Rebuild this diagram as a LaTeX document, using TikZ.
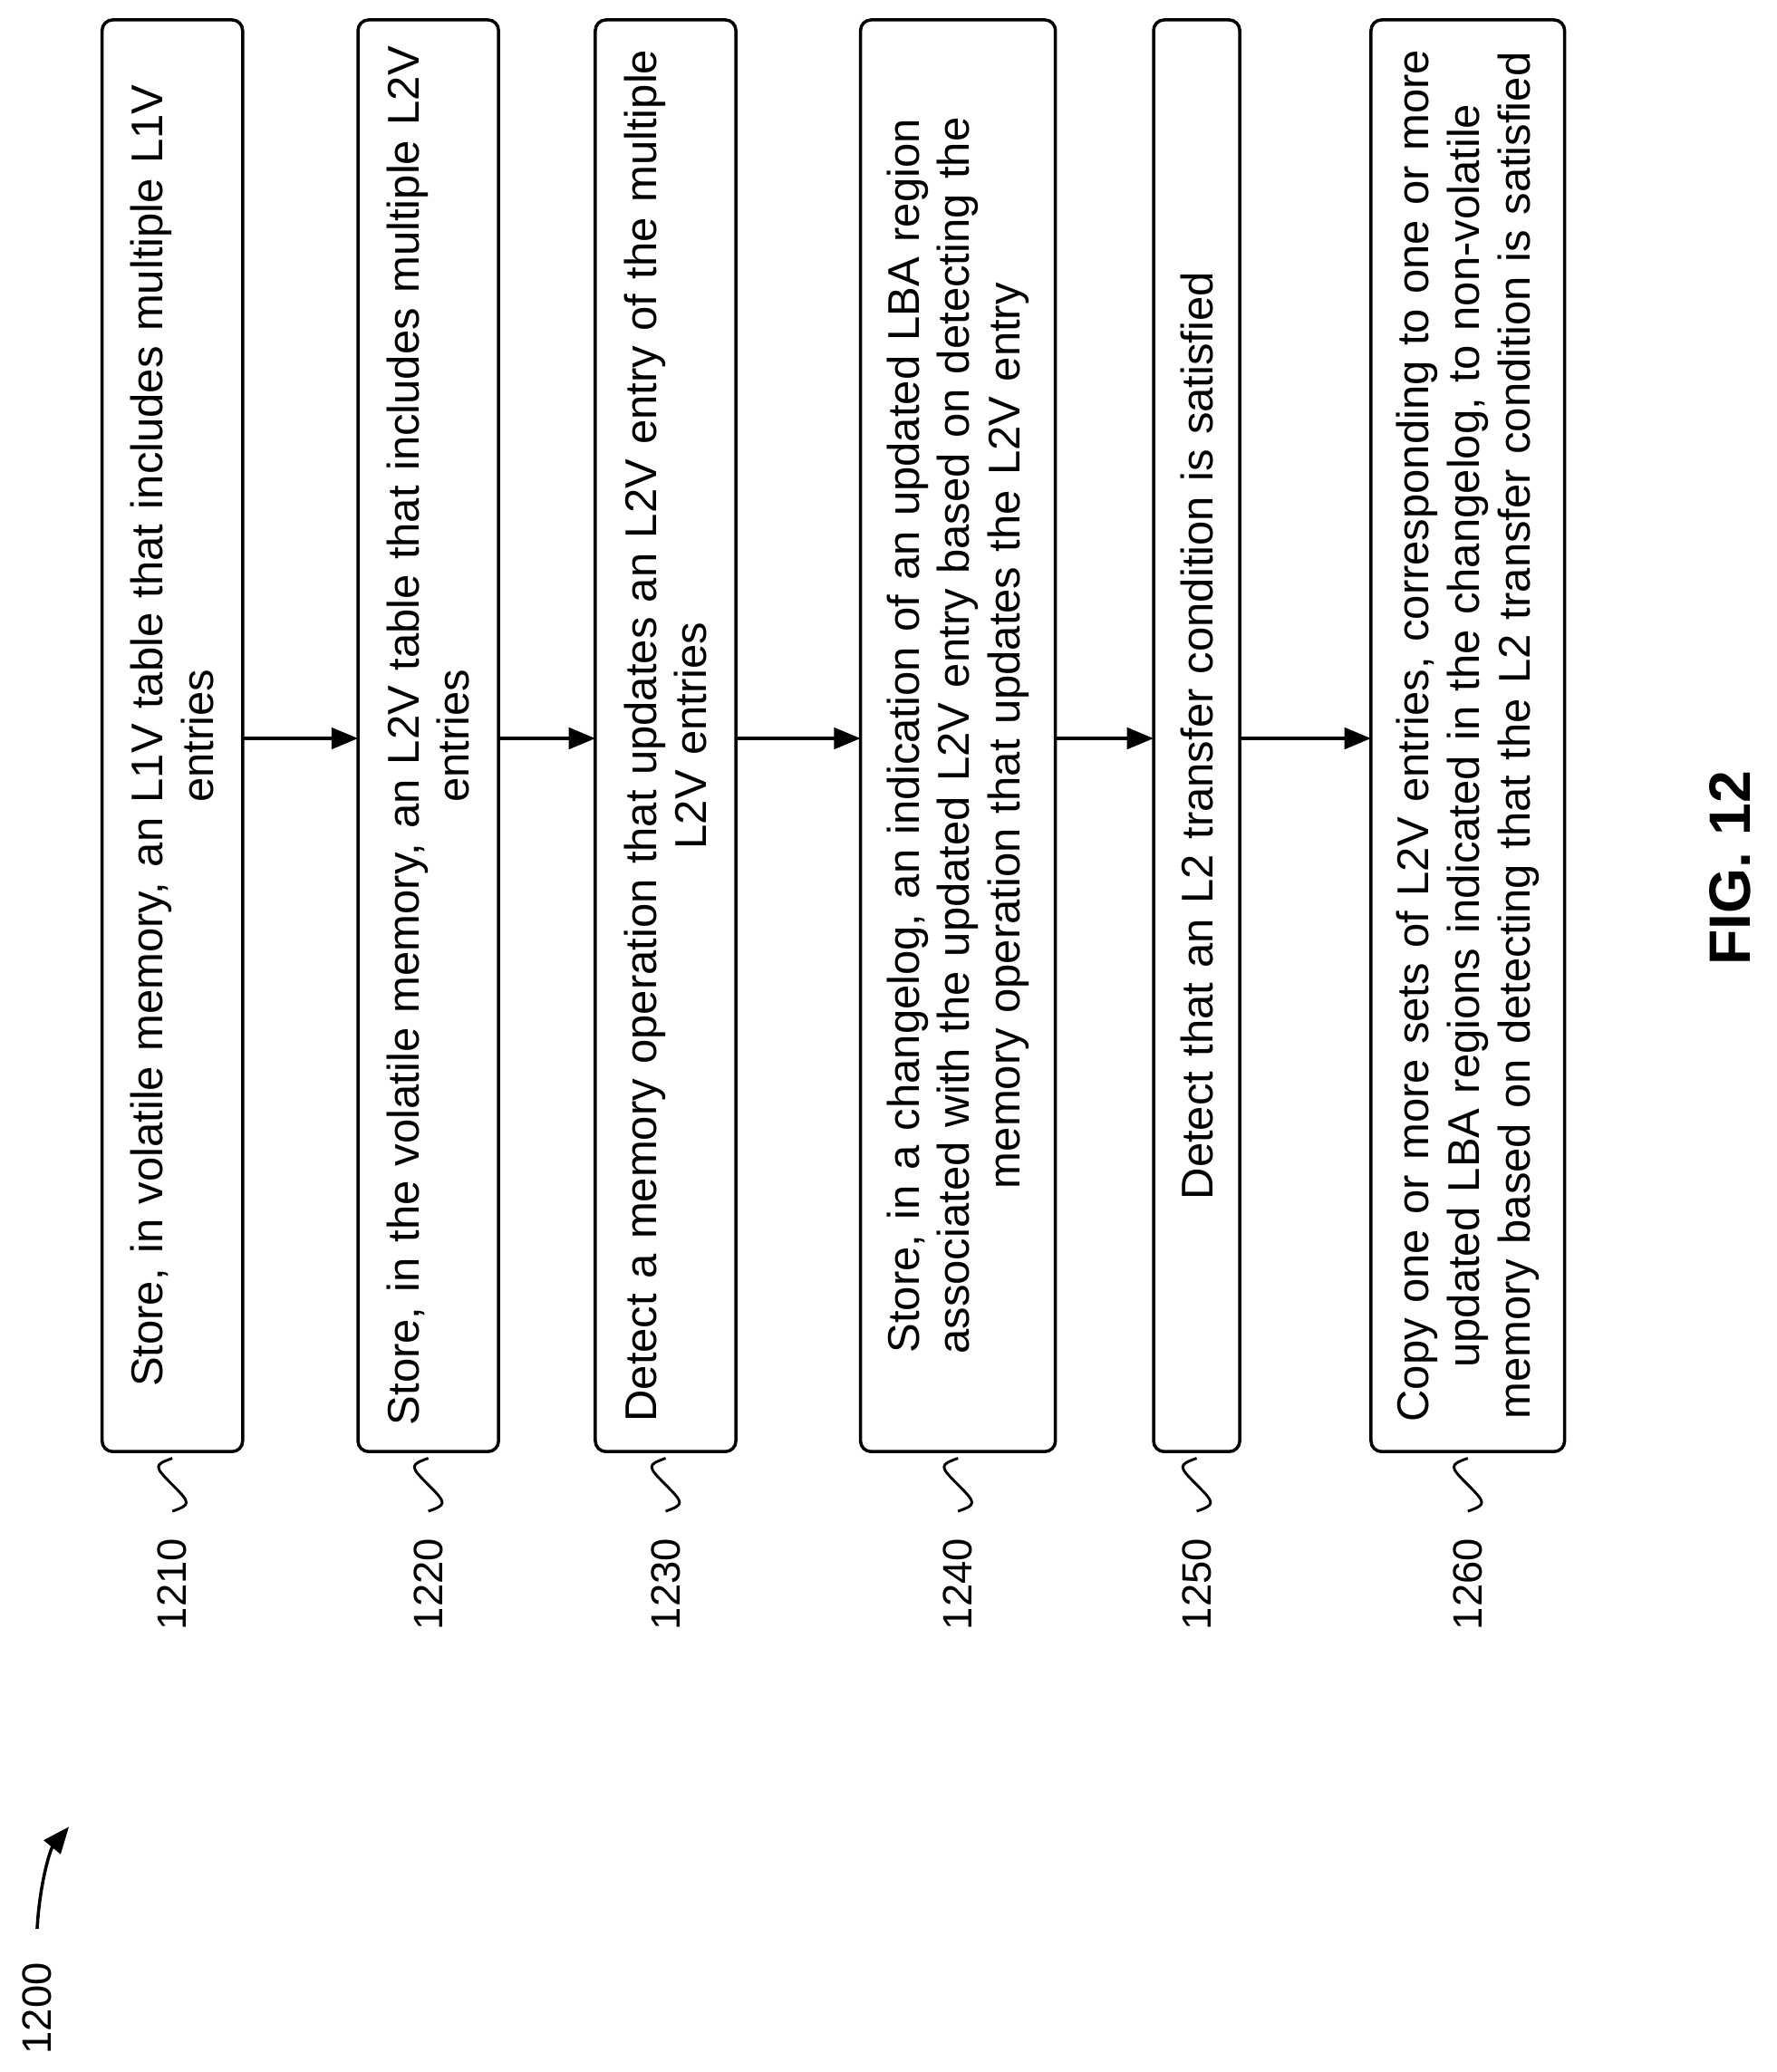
\documentclass[tikz,border=0pt]{standalone}
\usepackage{fontspec}
\setmainfont{Liberation Sans}
\usetikzlibrary{arrows.meta}
\begin{document}
\begin{tikzpicture}[x=1pt,y=-1pt,
  boxst/.style={draw,line width=2.4pt,rounded corners=8pt},
  txt/.style={rotate=90,align=center,text width=1060pt,font=\fontsize{33.5}{38}\selectfont,inner sep=0},
  lbl/.style={rotate=90,font=\fontsize{31}{36}\selectfont,inner sep=0},
  arr/.style={line width=2.4pt,-{Triangle[length=20pt,width=16pt]}},
  sq/.style={line width=2pt}]
\useasboundingbox (0,0) rectangle (1340,1563);
\foreach \n/\a/\b/\t/\l in {
 1/77/183/{Store, in volatile memory, an L1V table that includes multiple L1V\\entries}/1210,
 2/270/376/{Store, in the volatile memory, an L2V table that includes multiple L2V\\entries}/1220,
 3/449/555/{Detect a memory operation that updates an L2V entry of the multiple\\L2V entries}/1230,
 4/649/796/{Store, in a changelog, an indication of an updated LBA region\\associated with the updated L2V entry based on detecting the\\memory operation that updates the L2V entry}/1240,
 5/870/935/{Detect that an L2 transfer condition is satisfied}/1250,
 6/1034/1180/{Copy one or more sets of L2V entries, corresponding to one or more\\updated LBA regions indicated in the changelog, to non-volatile\\memory based on detecting that the L2 transfer condition is satisfied}/1260}
{
  \draw[boxst] (\a,15) rectangle (\b,1095);
  \coordinate (c\n) at ({(\a+\b)/2},555);
  \node[txt] (t\n) at (c\n) {\t};
  \coordinate (L\n) at (\a,557);
  \coordinate (R\n) at (\b,557);
  \coordinate (s\n) at ({(\a+\b)/2},1100);
  \draw[sq] (s\n) .. controls ++(-14,5) and ++(-14,-14) .. ++(0,20) .. controls ++(14,14) and ++(14,-5) .. ++(0,20);
  \node[lbl] (n\n) at ({(\a+\b)/2},1195) {\l};
}
\draw[arr] (R1) -- (L2);
\draw[arr] (R2) -- (L3);
\draw[arr] (R3) -- (L4);
\draw[arr] (R4) -- (L5);
\draw[arr] (R5) -- (L6);
\node[lbl] (n1200) at (28,1515) {1200};
\coordinate (a0) at (28,1455);
\coordinate (a1) at (52,1378);
\draw[arr] (a0) .. controls (30,1420) and (38,1395) .. (a1);
\node[rotate=90,font=\bfseries\fontsize{44}{50}\selectfont] (fig) at (1305,655) {FIG. 12};
\end{tikzpicture}
\end{document}
